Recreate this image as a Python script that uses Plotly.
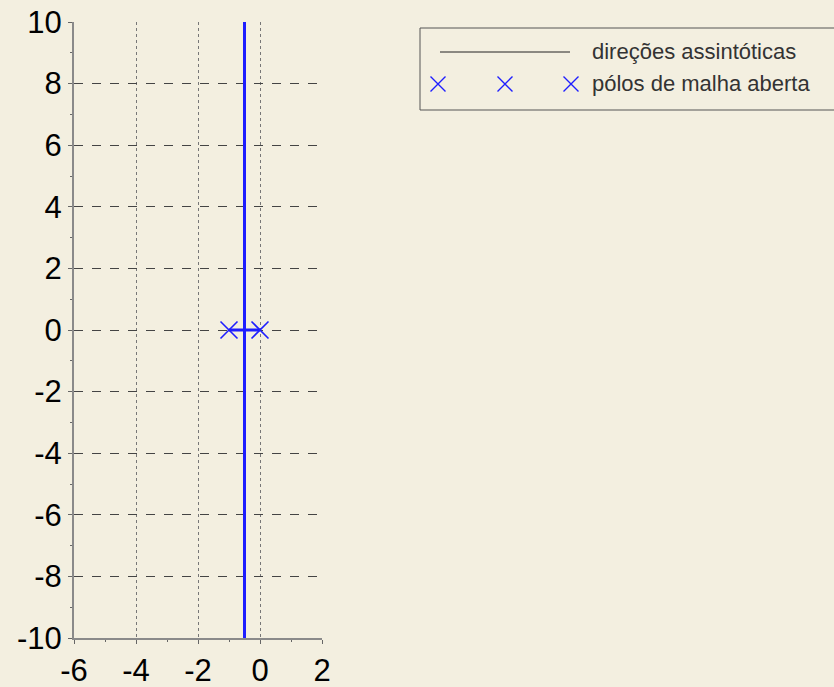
import plotly.graph_objects as go

# ---- data ----
poles_re = [0, -1]
poles_im = [0, 0]
branch_up_re = [-1, -0.5, -0.5]
branch_up_im = [0, 0, 10]
branch_down_re = [0, -0.5, -0.5]
branch_down_im = [0, 0, -10]
asym_re = [-0.5, -0.5]
asym_im = [-10, 10]
x_ticks = [-6, -4, -2, 0, 2]
y_ticks = [-10, -8, -6, -4, -2, 0, 2, 4, 6, 8, 10]
legend_labels = ["direções assintóticas", "pólos de malha aberta"]

BG = "#F3EFE0"
BLUE = "#1E1EFF"
W, H = 834, 687
L, T, B = 74, 22, 49
plot_w = W - L
plot_h = H - T - B

def px_x(p):
    return (p - L) / plot_w

def px_y(p):
    return (H - B - p) / plot_h

fig = go.Figure()

fig.add_trace(go.Scatter(x=asym_re, y=asym_im, mode="lines",
                         line=dict(color="black", width=1), showlegend=False))
fig.add_trace(go.Scatter(x=branch_up_re, y=branch_up_im, mode="lines",
                         line=dict(color=BLUE, width=3), showlegend=False))
fig.add_trace(go.Scatter(x=branch_down_re, y=branch_down_im, mode="lines",
                         line=dict(color=BLUE, width=3), showlegend=False))
fig.add_trace(go.Scatter(x=poles_re, y=poles_im, mode="markers",
                         marker=dict(symbol="x-thin", size=17,
                                     line=dict(color=BLUE, width=1.6)),
                         showlegend=False))

# ---- custom legend drawn on a helper axis (pixel coordinates) ----
fig.add_trace(go.Scatter(x=[440, 570], y=[52, 52], mode="lines",
                         line=dict(color="#222222", width=1),
                         xaxis="x2", yaxis="y2", showlegend=False))
fig.add_trace(go.Scatter(x=[438, 505, 571], y=[84, 84, 84], mode="markers",
                         marker=dict(symbol="x-thin", size=15,
                                     line=dict(color=BLUE, width=1.4)),
                         xaxis="x2", yaxis="y2", showlegend=False))
for txt, yy in zip(legend_labels, [52, 84]):
    fig.add_annotation(x=590, y=yy, xref="x2", yref="y2", text=txt,
                       showarrow=False, xanchor="left", yanchor="middle",
                       font=dict(family="Liberation Sans, Arial", size=22,
                                 color="#333333"))

fig.add_shape(type="rect", xref="paper", yref="paper",
              x0=px_x(420), x1=px_x(836), y0=px_y(110), y1=px_y(28),
              line=dict(color="#555555", width=1), fillcolor="rgba(0,0,0,0)")

axis_font = dict(family="Liberation Sans, Arial", size=31, color="black")

fig.update_layout(
    width=W, height=H, autosize=False,
    margin=dict(l=L, r=0, t=T, b=B, pad=0),
    paper_bgcolor=BG, plot_bgcolor=BG,
    showlegend=False,
    xaxis=dict(domain=[0, 248 / plot_w], range=[-6, 2], tickvals=x_ticks,
               ticktext=[str(v) for v in x_ticks],
               showgrid=True, gridcolor="#777777", griddash="dot", gridwidth=1,
               zeroline=False, showline=True, linecolor="#8a8a8a", linewidth=2,
               ticks="outside", ticklen=4, tickcolor="#666666",
               minor=dict(dtick=1, ticks="outside", ticklen=2, tickcolor="#666666",
                          showgrid=False),
               tickfont=axis_font, fixedrange=True, automargin=False),
    yaxis=dict(range=[-10, 10], tickvals=y_ticks,
               ticktext=[str(v) for v in y_ticks],
               showgrid=True, gridcolor="#444444", griddash="dash", gridwidth=1,
               zeroline=False, showline=True, linecolor="#8a8a8a", linewidth=2,
               ticks="outside", ticklen=4, tickcolor="#666666",
               minor=dict(dtick=1, ticks="outside", ticklen=2, tickcolor="#666666",
                          showgrid=False),
               tickfont=axis_font, fixedrange=True, automargin=False),
    xaxis2=dict(domain=[px_x(420), 1], range=[420, 834], visible=False,
                anchor="y2", fixedrange=True),
    yaxis2=dict(domain=[px_y(110), px_y(28)], range=[110, 28], visible=False,
                anchor="x2", fixedrange=True),
)

fig.write_html("out.html",
               config=dict(displayModeBar=False, responsive=False),
               post_script="document.body.style.margin='0';document.body.style.overflow='hidden';document.body.style.background='" + BG + "';")
